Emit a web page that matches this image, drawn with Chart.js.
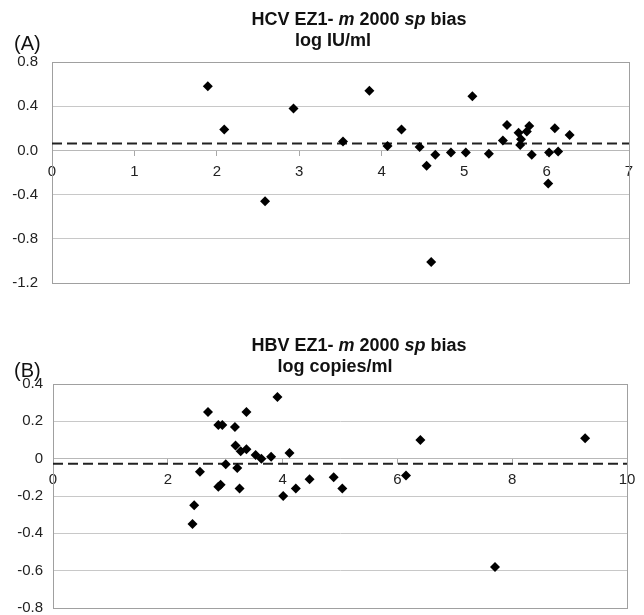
<!DOCTYPE html>
<html>
<head>
<meta charset="utf-8">
<script src="https://cdn.jsdelivr.net/npm/chart.js@4.4.1/dist/chart.umd.min.js"></script>
<style>
  body { margin: 0; background: #fff; overflow: hidden; font-family: "Liberation Sans", Arial, sans-serif; }
  #page { position: relative; width: 644px; height: 615px; }
  .panel { position: absolute; left: 0; width: 644px; }
  .panel canvas { position: absolute; left: 0; top: 0; }
  .t1, .t2 { position: absolute; width: 400px; text-align: center; font-weight: bold; font-size: 18px; line-height: 21px; color: #111; white-space: nowrap; }
  .lab { position: absolute; font-size: 20px; line-height: 20px; color: #111; }
</style>
</head>
<body>
<div id="page">
  <div class="panel" style="top:0;height:306px">
    <canvas id="chartA" width="644" height="306"></canvas>
    <div class="t1" style="left:159px;top:9px">HCV EZ1- <i>m</i> 2000 <i>sp</i> bias</div>
    <div class="t2" style="left:133px;top:30px">log IU/ml</div>
    <div class="lab" style="left:14px;top:33px">(A)</div>
  </div>
  <div class="panel" style="top:300px;height:327px">
    <canvas id="chartB" width="644" height="327"></canvas>
    <div class="t1" style="left:159px;top:35px">HBV EZ1- <i>m</i> 2000 <i>sp</i> bias</div>
    <div class="t2" style="left:135px;top:56px">log copies/ml</div>
    <div class="lab" style="left:14px;top:60px">(B)</div>
  </div>
</div>
<script>
// (A) HCV: mean log value vs. bias
const hcvX = [1.89, 2.09, 2.585, 2.93, 3.53, 3.85, 4.07, 4.24, 4.46, 4.545, 4.60, 4.65, 4.84, 5.02, 5.10,
  5.30, 5.47, 5.52, 5.66, 5.69, 5.68, 5.76, 5.79, 5.82, 6.02, 6.03, 6.10, 6.14, 6.28];
const hcvY = [0.58, 0.19, -0.46, 0.38, 0.08, 0.54, 0.04, 0.19, 0.03, -0.14, -1.01, -0.04, -0.02, -0.02, 0.49,
  -0.03, 0.09, 0.23, 0.16, 0.10, 0.05, 0.17, 0.22, -0.04, -0.30, -0.02, 0.20, -0.01, 0.14];
const hcvMean = 0.063;
const hcvXTicks = [0, 1, 2, 3, 4, 5, 6, 7];
const hcvYTicks = [-1.2, -0.8, -0.4, 0, 0.4, 0.8];
const hcvYLabels = ["-1.2", "-0.8", "-0.4", "0.0", "0.4", "0.8"];

// (B) HBV
const hbvX = [2.43, 2.46, 2.56, 2.70, 2.88, 2.88, 2.92, 2.95, 3.01, 3.17, 3.18, 3.21, 3.25, 3.27, 3.37,
  3.37, 3.53, 3.63, 3.80, 3.91, 4.01, 4.12, 4.23, 4.47, 4.89, 5.04, 6.15, 6.40, 7.70, 9.27];
const hbvY = [-0.35, -0.25, -0.07, 0.25, 0.18, -0.15, -0.14, 0.18, -0.03, 0.17, 0.07, -0.05, -0.16, 0.04, 0.25,
  0.05, 0.02, 0.00, 0.01, 0.33, -0.20, 0.03, -0.16, -0.11, -0.10, -0.16, -0.09, 0.10, -0.58, 0.11];
const hbvMean = -0.027;
const hbvXTicks = [0, 2, 4, 6, 8, 10];
const hbvYTicks = [-0.8, -0.6, -0.4, -0.2, 0, 0.2, 0.4];
const hbvYLabels = ["-0.8", "-0.6", "-0.4", "-0.2", "0", "0.2", "0.4"];

const FONT = { family: "'Liberation Sans', Arial, sans-serif", size: 15 };

// grey frame round the plot area
const frame = {
  id: 'frame',
  beforeDatasetsDraw(chart) {
    const a = chart.chartArea, ctx = chart.ctx;
    ctx.save();
    ctx.strokeStyle = '#a0a0a0';
    ctx.lineWidth = 1;
    ctx.strokeRect(Math.round(a.left) + 0.5, Math.round(a.top) + 0.5,
      Math.round(a.right - a.left), Math.round(a.bottom - a.top));
    ctx.restore();
  }
};

function biasChart(id, xs, ys, mean, xTicks, yTicks, yLabels, axisW, labelPad, padding) {
  const xMin = xTicks[0], xMax = xTicks[xTicks.length - 1];
  return new Chart(document.getElementById(id), {
    type: 'scatter',
    data: {
      datasets: [{
        data: xs.map((x, i) => ({ x: x, y: ys[i] })),
        pointStyle: 'rectRot',
        pointRadius: 5,
        backgroundColor: '#000',
        borderColor: '#000',
        borderWidth: 0,
        order: 1
      }, {
        type: 'line',
        data: [{ x: xMin, y: mean }, { x: xMax, y: mean }],
        borderColor: '#222',
        borderWidth: 2,
        borderDash: [10, 5],
        pointRadius: 0,
        order: 2
      }]
    },
    options: {
      responsive: false,
      animation: false,
      layout: { padding: padding },
      plugins: { legend: { display: false }, tooltip: { enabled: false } },
      scales: {
        x: {
          type: 'linear',
          position: { y: 0 },
          min: xMin, max: xMax,
          afterBuildTicks: s => { s.ticks = xTicks.map(v => ({ value: v })); },
          grid: { drawOnChartArea: false, color: '#a8a8a8', tickLength: 5 },
          border: { color: '#b8b8b8' },
          ticks: { color: '#222', font: FONT, padding: 7, autoSkip: false, maxRotation: 0 }
        },
        y: {
          min: yTicks[0], max: yTicks[yTicks.length - 1],
          afterBuildTicks: s => { s.ticks = yTicks.map(v => ({ value: v })); },
          afterFit: s => { s.width = axisW; },
          grid: { color: '#c8c8c8', drawTicks: false },
          border: { color: '#999' },
          ticks: { color: '#222', font: FONT, padding: labelPad, callback: (v, i) => yLabels[i] }
        }
      }
    },
    plugins: [frame]
  });
}

biasChart('chartA', hcvX, hcvY, hcvMean, hcvXTicks, hcvYTicks, hcvYLabels, 52, 14,
  { top: 62, right: 15, bottom: 17, left: 0 });
biasChart('chartB', hbvX, hbvY, hbvMean, hbvXTicks, hbvYTicks, hbvYLabels, 53, 10,
  { top: 84, right: 17, bottom: 12, left: 0 });
</script>
</body>
</html>
